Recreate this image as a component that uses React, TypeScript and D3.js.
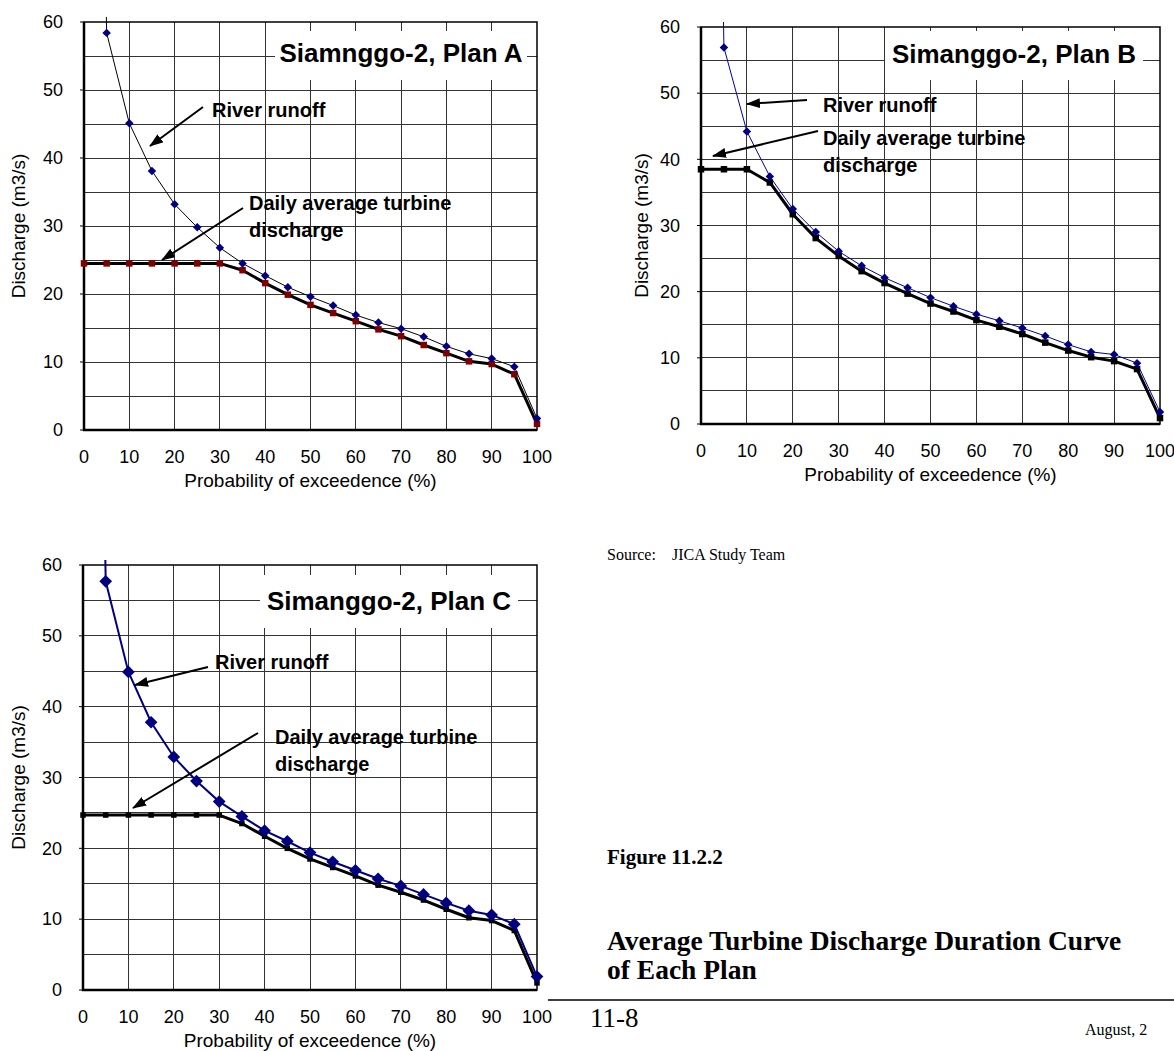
import React from 'react'
import { scaleLinear, line, symbol, symbolSquare, range } from 'd3'

// probability of exceedence (%)
const probability = [0, 5, 10, 15, 20, 25, 30, 35, 40, 45, 50, 55, 60, 65, 70, 75, 80, 85, 90, 95, 100]

// discharge (m3/s), x=0 runs off the top of the plot
const runoffA = [250, 58.4, 45.1, 38.1, 33.2, 29.8, 26.8, 24.5, 22.7, 21.0, 19.6, 18.3, 16.9, 15.8, 14.9, 13.7, 12.3, 11.2, 10.5, 9.3, 1.7]
const turbineA = [24.5, 24.5, 24.5, 24.5, 24.5, 24.5, 24.5, 23.5, 21.6, 19.9, 18.4, 17.2, 16.0, 14.8, 13.8, 12.5, 11.3, 10.1, 9.7, 8.2, 0.9]

const runoffB = [250, 56.9, 44.2, 37.4, 32.5, 29.0, 26.1, 23.9, 22.1, 20.6, 19.1, 17.8, 16.6, 15.6, 14.5, 13.3, 12.0, 10.9, 10.5, 9.2, 1.8]
const turbineB = [38.5, 38.5, 38.5, 36.5, 31.7, 28.1, 25.4, 23.1, 21.3, 19.7, 18.2, 17.0, 15.7, 14.7, 13.6, 12.3, 11.1, 10.1, 9.5, 8.3, 0.9]

const runoffC = [250, 57.7, 44.9, 37.8, 32.9, 29.5, 26.6, 24.5, 22.5, 21.0, 19.4, 18.1, 16.9, 15.7, 14.7, 13.5, 12.3, 11.2, 10.6, 9.3, 1.9]
const turbineC = [24.7, 24.7, 24.7, 24.7, 24.7, 24.7, 24.7, 23.5, 21.7, 20.0, 18.5, 17.3, 16.1, 14.8, 13.8, 12.7, 11.4, 10.2, 9.8, 8.4, 1.0]

const xTicks = [0, 10, 20, 30, 40, 50, 60, 70, 80, 90, 100]
const yTicks = [0, 10, 20, 30, 40, 50, 60]

const titles = ['Siamnggo-2, Plan A', 'Simanggo-2, Plan B', 'Simanggo-2, Plan C']
const runoffLabel = 'River runoff'
const turbineLabel = ['Daily average turbine', 'discharge']

const SANS = 'Liberation Sans, Arial, sans-serif'
const SERIF = 'Liberation Serif, Times New Roman, serif'

const Chart = ({ id, left, top, width, height, runoff, turbine, title, box, notes, look, yTitleX }) => {
  const x = scaleLinear().domain([0, 100]).range([0, width])
  const y = scaleLinear().domain([0, 60]).range([height, 0])

  const path = line().x((d, i) => x(probability[i])).y(d => y(d))

  const diamond = symbol(symbolSquare, look.diamond * look.diamond)()
  const square = symbol(symbolSquare, look.square * look.square)()

  return (
    <g transform={`translate(${left},${top})`}>
      <defs>
        <clipPath id={`clip-${id}`}>
          <rect x={-8} y={-5} width={width + 16} height={height + 12} />
        </clipPath>
      </defs>

      {/* grid */}
      {range(5, 60, 5).map(v => (
        <line key={'h' + v} x1={0} x2={width} y1={y(v)} y2={y(v)} stroke="#333" strokeWidth={1} shapeRendering="crispEdges" />
      ))}
      {range(10, 100, 10).map(v => (
        <line key={'v' + v} x1={x(v)} x2={x(v)} y1={0} y2={height} stroke="#333" strokeWidth={1} shapeRendering="crispEdges" />
      ))}

      {/* title box hides the grid behind it */}
      <rect x={box.x} y={box.y} width={box.w} height={box.h} fill="#fff" />
      <text x={box.x + box.w / 2} y={box.base} textAnchor="middle" fontFamily={SANS} fontWeight="bold" fontSize={26}>{title}</text>

      {/* frame */}
      <rect x={0} y={0} width={width} height={height} fill="none" stroke="#000" strokeWidth={1.5} />
      <line x1={0} x2={0} y1={0} y2={height + 1} stroke="#000" strokeWidth={2.5} />
      <line x1={-1} x2={width} y1={height} y2={height} stroke="#000" strokeWidth={2.5} />

      {/* y axis */}
      {yTicks.map(v => (
        <g key={'yt' + v}>
          <line x1={-4} x2={0} y1={y(v)} y2={y(v)} stroke="#000" strokeWidth={1} />
          <text x={-21} y={y(v)} dy="0.35em" textAnchor="end" fontFamily={SANS} fontSize={18}>{v}</text>
        </g>
      ))}
      <text transform={`translate(${yTitleX},${height / 2}) rotate(-90)`} textAnchor="middle" fontFamily={SANS} fontSize={19}>Discharge (m3/s)</text>

      {/* x axis */}
      {xTicks.map(v => (
        <text key={'xt' + v} x={x(v)} y={height + 33} textAnchor="middle" fontFamily={SANS} fontSize={18}>{v}</text>
      ))}
      <text x={width / 2} y={height + 57} textAnchor="middle" fontFamily={SANS} fontSize={19}>Probability of exceedence (%)</text>

      {/* series */}
      <g clipPath={`url(#clip-${id})`}>
        <path d={path(turbine)} fill="none" stroke="#000" strokeWidth={3} strokeLinejoin="round" />
        {turbine.map((v, i) => (
          <path key={'s' + i} d={square} transform={`translate(${x(probability[i])},${y(v)})`} fill={look.squareColor} />
        ))}
        <path d={path(runoff)} fill="none" stroke={look.runoffLine} strokeWidth={look.runoffWidth} />
        {runoff.map((v, i) => v <= 60 && (
          <path key={'d' + i} d={diamond} transform={`translate(${x(probability[i])},${y(v)}) rotate(45)`} fill="#000080" />
        ))}
      </g>

      {/* annotations */}
      <text x={notes.runoff[0]} y={notes.runoff[1]} fontFamily={SANS} fontWeight="bold" fontSize={20}>{runoffLabel}</text>
      <line x1={notes.runoffArrow[0]} y1={notes.runoffArrow[1]} x2={notes.runoffArrow[2]} y2={notes.runoffArrow[3]} stroke="#000" strokeWidth={2} markerEnd="url(#arrow)" />
      {turbineLabel.map((t, i) => (
        <text key={t} x={notes.turbine[0]} y={notes.turbine[1] + i * 27} fontFamily={SANS} fontWeight="bold" fontSize={20}>{t}</text>
      ))}
      <line x1={notes.turbineArrow[0]} y1={notes.turbineArrow[1]} x2={notes.turbineArrow[2]} y2={notes.turbineArrow[3]} stroke="#000" strokeWidth={2} markerEnd="url(#arrow)" />
    </g>
  )
}

const App = () => (
  <svg width={1174} height={1051} style={{ position: 'absolute', left: 0, top: 0, background: '#fff' }}>
    <defs>
      <marker id="arrow" markerUnits="userSpaceOnUse" markerWidth={14} markerHeight={10} refX={13} refY={5} orient="auto">
        <path d="M0,0 L14,5 L0,10 z" fill="#000" />
      </marker>
    </defs>
    <rect width={1174} height={1051} fill="#fff" />

    <Chart id="a" left={84} top={22} width={453} height={408} runoff={runoffA} turbine={turbineA} title={titles[0]}
      box={{ x: 191, y: 9, w: 252, h: 49, base: 40 }}
      notes={{ runoff: [128, 95], runoffArrow: [119, 85, 66, 124], turbine: [165, 188], turbineArrow: [159, 186, 78, 238] }}
      look={{ diamond: 6, square: 6.5, squareColor: '#800000', runoffLine: '#000', runoffWidth: 1 }}
      yTitleX={-59} />

    <Chart id="b" left={701} top={27} width={459} height={397} runoff={runoffB} turbine={turbineB} title={titles[1]}
      box={{ x: 184, y: 4, w: 258, h: 49, base: 36 }}
      notes={{ runoff: [122, 85], runoffArrow: [106, 73, 46, 77], turbine: [122, 118], turbineArrow: [117, 104, 12, 129] }}
      look={{ diamond: 6, square: 6.5, squareColor: '#000', runoffLine: '#0000a0', runoffWidth: 1 }}
      yTitleX={-53} />

    <Chart id="c" left={83} top={565} width={454} height={425} runoff={runoffC} turbine={turbineC} title={titles[2]}
      box={{ x: 177, y: 10, w: 258, h: 53, base: 45 }}
      notes={{ runoff: [132, 104], runoffArrow: [125, 102, 52, 120], turbine: [192, 179], turbineArrow: [175, 168, 50, 243] }}
      look={{ diamond: 9, square: 5.5, squareColor: '#000', runoffLine: '#000080', runoffWidth: 2 }}
      yTitleX={-58} />

    {/* page text */}
    <text x={607} y={560} fontFamily={SERIF} fontSize={16}>Source:</text>
    <text x={672} y={560} fontFamily={SERIF} fontSize={16}>JICA Study Team</text>
    <text x={607} y={864} fontFamily={SERIF} fontWeight="bold" fontSize={21}>Figure 11.2.2</text>
    <text x={607} y={950} fontFamily={SERIF} fontWeight="bold" fontSize={27.5}>Average Turbine Discharge Duration Curve</text>
    <text x={607} y={979} fontFamily={SERIF} fontWeight="bold" fontSize={27.5}>of Each Plan</text>
    <line x1={548} x2={1174} y1={1000} y2={1000} stroke="#000" strokeWidth={1.5} />
    <text x={590} y={1027} fontFamily={SERIF} fontSize={27}>11-8</text>
    <text x={1085} y={1035} fontFamily={SERIF} fontSize={16}>August, 2</text>
  </svg>
)

export default App
